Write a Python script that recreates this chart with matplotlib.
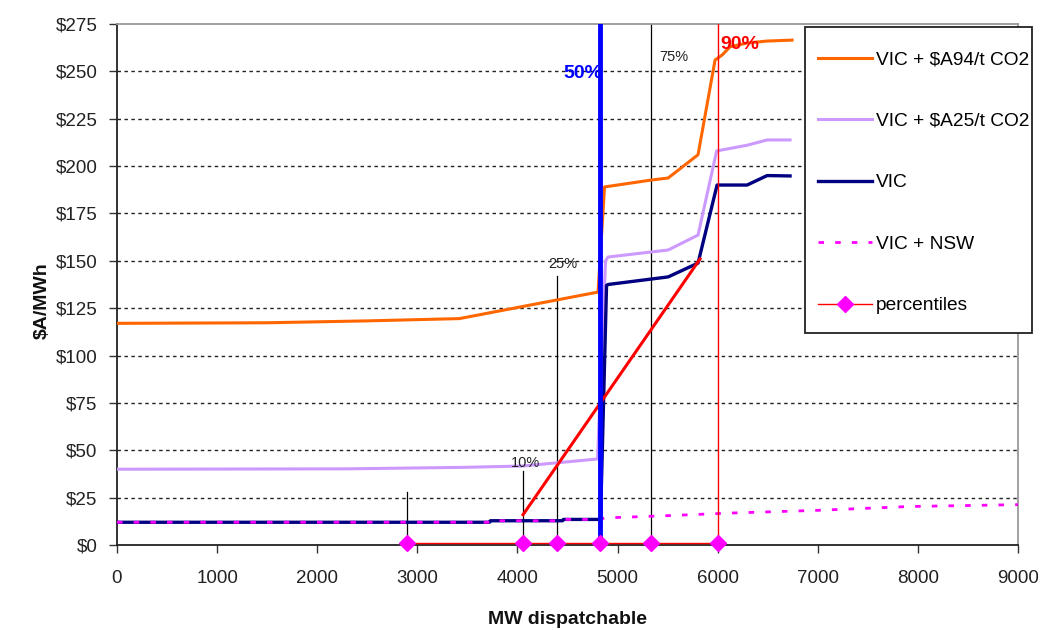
import matplotlib.pyplot as plt
from matplotlib.patches import Rectangle

plt.rcParams['font.family'] = ['Liberation Sans', 'DejaVu Sans']

# supply curves, MW dispatchable vs $A/MWh
a94_mw = [0, 1500, 2500, 3420, 4805, 4870, 5345, 5505, 5804, 5974, 6044, 6124, 6300, 6494, 6743]
a94_price = [117, 117.3, 118.3, 119.5, 133.5, 189, 192.7, 193.7, 206, 256, 258.6, 263, 265, 266, 266.5]

a25_mw = [0, 2300, 3480, 4056, 4800, 4880, 4905, 5505, 5804, 5990, 6294, 6494, 6723]
a25_price = [40, 40.2, 41, 41.7, 45.4, 150, 152, 155.7, 163.6, 208, 211, 213.8, 213.8]

vic_mw = [0, 3720, 3730, 4450, 4460, 4830, 4890, 4905, 5505, 5804, 5994, 6294, 6494, 6723]
vic_price = [12, 12, 12.8, 12.8, 13.5, 13.5, 137, 137.5, 141.5, 148.8, 190, 190, 195, 194.8]

nsw_mw = [0, 3720, 3730, 4450, 4460, 4805, 4880, 5500, 6150, 7000, 7900, 9000]
nsw_price = [12, 12, 12.8, 12.8, 13.5, 13.5, 14.3, 15.5, 16.9, 18.3, 20.3, 21.3]

red_mw = [4056, 5824]
red_price = [16, 151]

pct_mw = [2900, 4056, 4396, 4820, 5335, 6000]
pct_price = [0.8, 0.8, 0.8, 0.8, 0.8, 0.8]
pct_top = [28, 39, 142, 275, 275, 275]
pct_labels = ['', '10%', '25%', '50%', '75%', '90%']
label_pos = [None, (4076, 43.3), (4456, 148.3), (4655, 249), (5565, 257.6), (6224, 264)]

yticks = list(range(0, 276, 25))
xticks = list(range(0, 9001, 1000))

fig = plt.figure(figsize=(10.41, 6.30), dpi=100)
ax = fig.add_axes([117 / 1041, 1 - 545 / 630, (1018 - 117) / 1041, (545 - 24) / 630])

for y in yticks[1:-1]:
    ax.axhline(y, color='#222222', lw=1.0, ls=(0, (2.5, 2.5)), zorder=1)

# percentile drop lines
for i, x in enumerate(pct_mw):
    if pct_labels[i] == '50%':
        ax.plot([x, x], [0, pct_top[i]], color='#0000ff', lw=3.5, zorder=6)
    elif pct_labels[i] == '90%':
        ax.plot([x, x], [0, pct_top[i]], color='#ff0000', lw=1.0, zorder=6)
    else:
        ax.plot([x, x], [0, pct_top[i]], color='black', lw=0.9, zorder=2)

ax.plot(a94_mw, a94_price, color='#ff6600', lw=2.2, label='VIC + $A94/t CO2', zorder=4)
ax.plot(a25_mw, a25_price, color='#cc99ff', lw=2.2, label='VIC + $A25/t CO2', zorder=4)
ax.plot(vic_mw, vic_price, color='#000080', lw=2.4, label='VIC', zorder=4)
ax.plot(nsw_mw, nsw_price, color='#ff00ff', lw=2.0, ls=(0, (2, 4)), label='VIC + NSW', zorder=5)
ax.plot(red_mw, red_price, color='#ff0000', lw=2.2, zorder=5)
ax.plot(pct_mw, pct_price, color='#ff0000', lw=1.0, marker='D', ms=8.5,
        mfc='#ff00ff', mec='#ff00ff', label='percentiles', zorder=7, clip_on=False)

for lab, pos in zip(pct_labels, label_pos):
    if not lab:
        continue
    if lab == '50%':
        ax.text(pos[0], pos[1], lab, color='#0000ff', fontsize=14, fontweight='bold',
                ha='center', va='center', zorder=8)
    elif lab == '90%':
        ax.text(pos[0], pos[1], lab, color='#ff0000', fontsize=14, fontweight='bold',
                ha='center', va='center', zorder=8)
    else:
        ax.text(pos[0], pos[1], lab, color='#222222', fontsize=10.5,
                ha='center', va='center', zorder=8)

ax.set_xlim(0, 9000)
ax.set_ylim(0, 275)
ax.set_xticks(xticks)
ax.set_yticks(yticks)
ax.set_yticklabels(['$' + str(v) for v in yticks])
ax.tick_params(axis='both', direction='out', length=6, width=1, color='#333333',
               labelsize=13.5, labelcolor='#222222')
ax.tick_params(axis='y', pad=8)
ax.tick_params(axis='x', pad=12)

for s in ['left', 'bottom']:
    ax.spines[s].set_color('#222222')
    ax.spines[s].set_linewidth(1.3)
for s in ['top', 'right']:
    ax.spines[s].set_color('#999999')
    ax.spines[s].set_linewidth(1.3)

ax.set_ylabel('$A/MWh', fontsize=14, fontweight='bold', color='#111111')
ax.yaxis.set_label_coords(-0.074, 0.47)
ax.set_xlabel('MW dispatchable', fontsize=14, fontweight='bold', color='#111111')
ax.xaxis.set_label_coords(0.5, -0.127)

# legend box drawn separately so padding matches
box = Rectangle((805 / 1041, 1 - 333 / 630), 227 / 1041, 306 / 630, transform=fig.transFigure,
                facecolor='white', edgecolor='#222222', lw=1.3, zorder=9)
fig.add_artist(box)
leg = fig.legend(loc='upper left', bbox_to_anchor=(818 / 1041, 1 - 51 / 630),
                 fontsize=13.8, frameon=False, handlelength=2.8, handletextpad=0.2,
                 labelspacing=2.3, borderpad=0, borderaxespad=0)
leg.set_zorder(10)

fig.savefig('out.png', dpi=100)
